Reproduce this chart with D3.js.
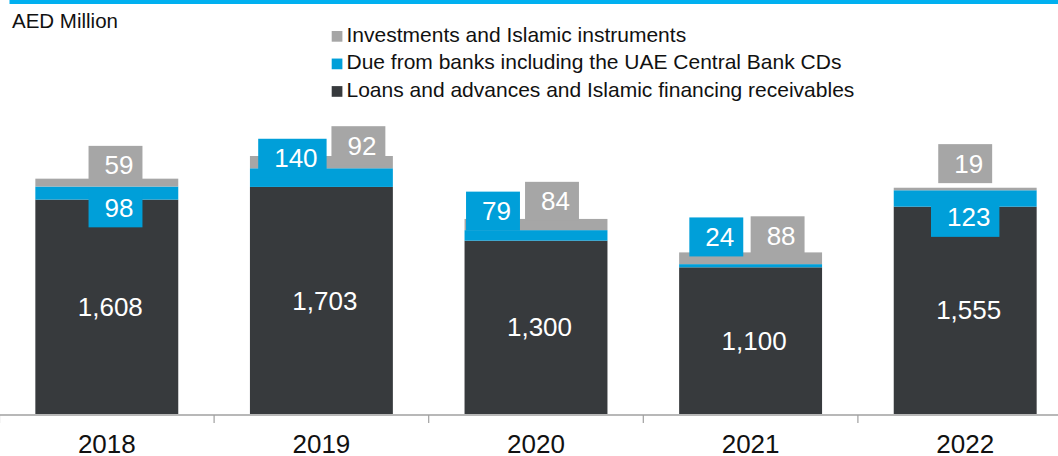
<!DOCTYPE html>
<html>
<head>
<meta charset="utf-8">
<script src="https://cdn.jsdelivr.net/npm/d3@7"></script>
<style>
  html, body { margin: 0; padding: 0; background: #fff; }
  svg { display: block; font-family: "Liberation Sans", Arial, sans-serif; }
</style>
</head>
<body>
<svg id="chart" width="1058" height="456"></svg>
<script>
// ---- data ----
const years = ["2018", "2019", "2020", "2021", "2022"];
const loans = [1608, 1703, 1300, 1100, 1555];
const dueFromBanks = [98, 140, 79, 24, 123];
const investments = [59, 92, 84, 88, 19];
const seriesNames = [
  "Loans and advances and Islamic financing receivables",
  "Due from banks including the UAE Central Bank CDs",
  "Investments and Islamic instruments"
];
const unitLabel = "AED Million";

// ---- label placement (pixel offsets, separate from data) ----
const dueLabelOffset = [[8.7, 21.3], [-29, -10], [-43, -19], [-34.3, -27.2], [0, 27.1]];
const invLabelOffset = [[8.7, -13.3], [37, -10.3], [16, -17.6], [27, -16.6], [0, -24.1]];

const colors = { loans: "#373a3d", due: "#009fd9", inv: "#a6a6a6" };
const keys = ["loans", "due", "inv"];

const rows = years.map((y, i) => ({ year: y, loans: loans[i], due: dueFromBanks[i], inv: investments[i] }));
const stacked = d3.stack().keys(keys)(rows);

const svg = d3.select("#chart");
const W = 1058;

const x = d3.scaleBand().domain(years).range([-0.5, 1072.5]).paddingInner(0.334).paddingOuter(0.167);
const y = d3.scaleLinear().domain([0, 2400]).range([414, 94]);
const step = x.step();

// top accent line
svg.append("rect").attr("x", 9.5).attr("y", 0).attr("width", W - 9.5).attr("height", 4).attr("fill", "#00b0f0");

// unit label
svg.append("text").attr("x", 12).attr("y", 27.7).attr("font-size", 20.5).attr("fill", "#111").text(unitLabel);

// legend
const legendItems = [
  { name: seriesNames[2], color: colors.inv },
  { name: seriesNames[1], color: colors.due },
  { name: seriesNames[0], color: colors.loans }
];
const lg = svg.append("g");
legendItems.forEach((d, i) => {
  const base = 41.7 + i * 27.55;
  lg.append("rect").attr("x", 331.7).attr("y", base - 10.7).attr("width", 10.7).attr("height", 10.7).attr("fill", d.color);
  lg.append("text").attr("x", 346.5).attr("y", base).attr("font-size", 21).attr("fill", "#111").text(d.name);
});

// bars
const bars = svg.append("g");
stacked.forEach(layer => {
  bars.selectAll(null).data(layer).enter().append("rect")
    .attr("x", d => x(d.data.year))
    .attr("width", x.bandwidth())
    .attr("y", d => y(d[1]))
    .attr("height", d => y(d[0]) - y(d[1]))
    .attr("fill", colors[layer.key]);
});

// axis
svg.append("line").attr("x1", 0).attr("x2", W).attr("y1", 415).attr("y2", 415)
  .attr("stroke", "#a0a0a0").attr("stroke-width", 1.5);
const ax = svg.append("g");
d3.range(0, years.length + 1).forEach(i => {
  const tx = -0.5 + i * step;
  ax.append("line").attr("x1", tx).attr("x2", tx).attr("y1", 415).attr("y2", 423)
    .attr("stroke", "#a0a0a0").attr("stroke-width", 1.2);
});
ax.selectAll(null).data(years).enter().append("text")
  .attr("x", d => x(d) + x.bandwidth() / 2)
  .attr("y", 453)
  .attr("text-anchor", "middle")
  .attr("font-size", 26)
  .attr("fill", "#111")
  .text(d => d);

const fmt = d3.format(",");
const labels = svg.append("g");

// loans labels (centered in segment)
rows.forEach((r, i) => {
  const xc = x(r.year) + x.bandwidth() / 2;
  labels.append("text")
    .attr("x", xc + 3.5)
    .attr("y", (y(0) + y(r.loans)) / 2)
    .attr("dy", "0.35em")
    .attr("text-anchor", "middle")
    .attr("font-size", 26)
    .attr("fill", "#fff")
    .text(fmt(r.loans));
});

function boxLabel(cx, cy, txt, fill) {
  const g = labels.append("g");
  const t = g.append("text")
    .attr("x", cx + 3.5)
    .attr("y", cy)
    .attr("dy", "0.35em")
    .attr("text-anchor", "middle")
    .attr("font-size", 26)
    .attr("fill", "#fff")
    .text(txt);
  const w = t.node().getComputedTextLength() + 25;
  const h = 39;
  g.insert("rect", "text")
    .attr("x", cx - w / 2).attr("y", cy - h / 2)
    .attr("width", w).attr("height", h)
    .attr("fill", fill);
}

rows.forEach((r, i) => {
  const xc = x(r.year) + x.bandwidth() / 2;
  const dueTop = y(r.loans + r.due);
  const stackTop = y(r.loans + r.due + r.inv);
  boxLabel(xc + dueLabelOffset[i][0], dueTop + dueLabelOffset[i][1], fmt(r.due), colors.due);
  boxLabel(xc + invLabelOffset[i][0], stackTop + invLabelOffset[i][1], fmt(r.inv), colors.inv);
});
</script>
</body>
</html>
